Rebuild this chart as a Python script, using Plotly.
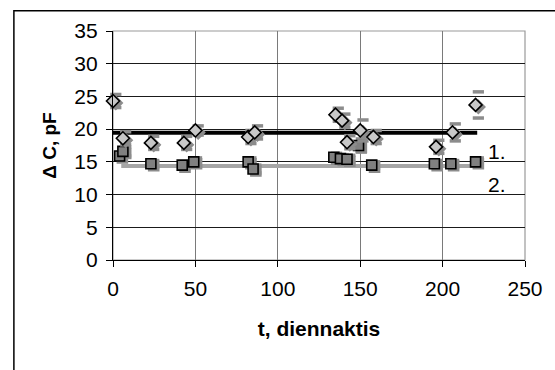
import plotly.graph_objects as go

# Series 1 (diamonds)
t1 = [0, 6, 23, 43, 50, 82, 86, 135, 139, 142, 150, 158, 196, 206, 220]
c1 = [24.3, 18.6, 17.9, 17.9, 19.8, 18.8, 19.5, 22.2, 21.3, 18.0, 19.8, 18.8, 17.3, 19.5, 23.7]
e1 = [1.0, 1.0, 1.0, 1.0, 0.7, 1.0, 1.0, 1.0, 1.0, 1.0, 1.6, 1.0, 1.0, 1.3, 2.0]

# Series 2 (squares)
t2 = [4, 6, 23, 42, 49, 82, 85, 134, 138, 142, 149, 157, 195, 205, 220]
c2 = [15.9, 16.6, 14.7, 14.5, 15.0, 15.0, 13.9, 15.7, 15.5, 15.4, 17.5, 14.5, 14.7, 14.7, 15.0]
e2 = [0.6, 0.7, 0.5, 0.5, 0.6, 0.6, 0.6, 0.6, 0.6, 0.6, 1.0, 0.5, 0.5, 0.5, 0.6]

# Mean levels
level1_x = [0, 221]
level1_y = [19.45, 19.45]
level2_x = [5, 221]
level2_y = [14.35, 14.35]

line_labels = ["1.", "2."]
label_x = [233, 233]
label_y = [16.6, 11.6]

x_ticks = [0, 50, 100, 150, 200, 250]
y_ticks = [0, 5, 10, 15, 20, 25, 30, 35]

FONT = "Liberation Sans, Arial, sans-serif"
CAP = "#8c8c8c"
SHADOW = "#8c8c8c"
# shadow offset (Excel-like drop shadow), in axis units (~3 px right, ~2 px down)
SDX = 1.7
SDY = -0.3

fig = go.Figure()

fig.add_trace(go.Scatter(x=level1_x, y=level1_y, mode="lines",
                         line=dict(color="black", width=4), hoverinfo="skip"))
fig.add_trace(go.Scatter(x=level2_x, y=level2_y, mode="lines",
                         line=dict(color="#a6a6a6", width=4), hoverinfo="skip"))

def caps(t, c, e):
    xs = [v + SDX for v in t] * 2
    ys = [v + d for v, d in zip(c, e)] + [v - d for v, d in zip(c, e)]
    return go.Scatter(x=xs, y=ys, mode="markers", cliponaxis=False, hoverinfo="skip",
                      marker=dict(symbol="line-ew", size=8, color=CAP,
                                  line=dict(color=CAP, width=3.5)))

def shadow(t, c, symbol):
    return go.Scatter(x=[v + SDX for v in t], y=[v + SDY for v in c], mode="markers",
                      cliponaxis=False, hoverinfo="skip",
                      marker=dict(symbol=symbol, size=10, color=SHADOW,
                                  line=dict(color=SHADOW, width=1.6)))

fig.add_trace(caps(t2, c2, e2))
fig.add_trace(shadow(t2, c2, "square"))
fig.add_trace(go.Scatter(
    x=t2, y=c2, mode="markers", cliponaxis=False,
    marker=dict(symbol="square", size=10, color="#808080",
                line=dict(color="black", width=1.6))))

fig.add_trace(caps(t1, c1, e1))
fig.add_trace(shadow(t1, c1, "diamond"))
fig.add_trace(go.Scatter(
    x=t1, y=c1, mode="markers", cliponaxis=False,
    marker=dict(symbol="diamond", size=10, color="#c8c8c8",
                line=dict(color="black", width=1.6))))

for lx, ly, txt in zip(label_x, label_y, line_labels):
    fig.add_annotation(x=lx, y=ly, text=txt, showarrow=False,
                       font=dict(family=FONT, size=21, color="black"))

# plot area border (gray)
fig.add_shape(type="rect", xref="x domain", yref="y domain",
              x0=0, x1=1, y0=0, y1=1, line=dict(color="#9a9a9a", width=1.2),
              layer="below")
# outer chart frame
fig.add_shape(type="rect", xref="paper", yref="paper",
              x0=(11 - 113) / 424, x1=(600 - 113) / 424,
              y0=(260.3 - 400) / 229.6, y1=(260.3 - 10.5) / 229.6,
              line=dict(color="black", width=1.5))

fig.update_layout(
    width=555, height=370,
    margin=dict(l=113, r=18, t=31, b=110),
    paper_bgcolor="white", plot_bgcolor="white",
    showlegend=False,
    font=dict(family=FONT, size=21, color="black"),
    xaxis=dict(range=[0, 250], tickvals=x_ticks, ticks="outside", ticklen=6,
               tickcolor="black", showline=True, linecolor="black", linewidth=1.2,
               showgrid=True, gridcolor="#7a7a7a", gridwidth=1, zeroline=False,
               tickfont=dict(size=21), ticklabelstandoff=4,
               title=dict(text="<b>t, diennaktis</b>", font=dict(size=21), standoff=22)),
    yaxis=dict(range=[0, 35], tickvals=y_ticks, ticks="outside", ticklen=6,
               tickcolor="black", showline=True, linecolor="black", linewidth=1.2,
               showgrid=True, gridcolor="#1a1a1a", gridwidth=1, zeroline=False,
               tickfont=dict(size=21), ticklabelstandoff=4,
               title=dict(text="<b>Δ C, pF</b>", font=dict(size=19), standoff=12)),
)

fig.write_html("out.html", config={"displayModeBar": False},
               post_script="document.body.style.margin='0';document.body.style.overflow='hidden';")
